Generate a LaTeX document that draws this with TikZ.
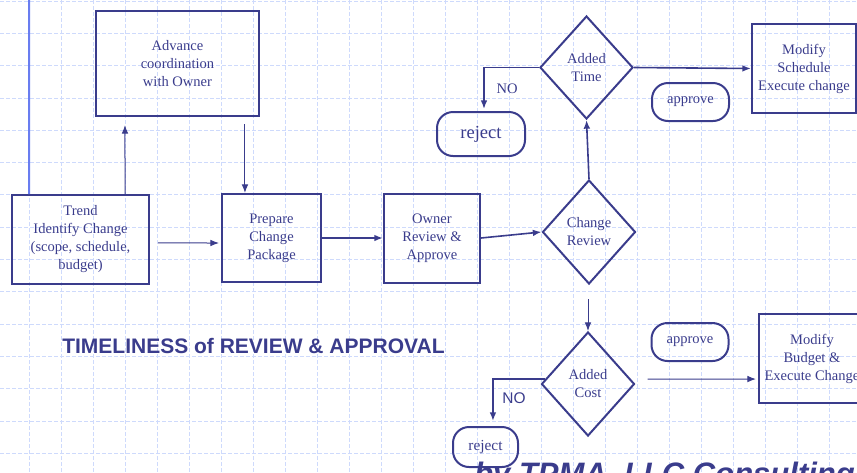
\documentclass[tikz,border=0pt]{standalone}
\usepackage{fontspec}
\setmainfont{Liberation Serif}
\setsansfont{Liberation Sans}
\usetikzlibrary{shapes.geometric,arrows.meta}

\definecolor{navy}{RGB}{58,60,140}
\definecolor{gridblue}{RGB}{206,218,252}
\definecolor{rulerblue}{RGB}{105,125,240}

\begin{document}
\begin{tikzpicture}[x=0.75pt,y=-0.75pt,
		box/.style={draw=navy,line width=1.5pt,text=navy,align=center,inner sep=0pt,
			font=\fontsize{10.9}{13.5}\selectfont},
		decision/.style={box,diamond,minimum width=69.75pt,minimum height=78pt},
		pill/.style={box,rounded corners=12pt},
		flow/.style={-{Latex[length=6.5pt,width=5pt]},draw=navy,line width=0.75pt},
		label/.style={text=navy,inner sep=0pt,font=\fontsize{10.9}{13.5}\selectfont}]
		\useasboundingbox (0,0) rectangle (857,472);
		\clip (0,0) rectangle (857,472);

		% grid
		\foreach \gx in {-3,29,...,861}
			\draw[gridblue,dash pattern=on 3pt off 1.5pt,line width=0.5pt] (\gx,0) -- (\gx,472);
		\foreach \gy in {1,33.3,...,472}
			\draw[gridblue,dash pattern=on 3pt off 1.5pt,line width=0.5pt] (0,\gy) -- (857,\gy);

		% boxes
		\node[box,minimum width=122.25pt,minimum height=78.75pt] (advance) at (177.5,63.5) {Advance\\coordination\\with Owner};
		\node[box,minimum width=102.75pt,minimum height=66.75pt] (trend) at (80.5,239.5) {Trend\\Identify Change\\(scope, schedule,\\budget)};
		\node[box,minimum width=74.25pt,minimum height=66pt] (prepare) at (271.5,238) {Prepare\\Change\\Package};
		\node[box,minimum width=72pt,minimum height=66.75pt] (owner) at (432,238) {Owner\\Review \&\\Approve};
		\node[decision] (review) at (589,232) {Change\\Review};
		\node[decision,minimum height=77.25pt] (addtime) at (586.5,67.5) {Added\\Time};
		\node[decision] (addcost) at (588,384) {Added\\Cost};
		\node[box,minimum width=78pt,minimum height=66.75pt] (schedule) at (804,68.5) {Modify\\Schedule\\Execute change};
		\node[box,minimum width=79.5pt,minimum height=66.75pt] (budget) at (812,358.5) {Modify\\Budget \&\\Execute Change};

		\node[pill,minimum width=66pt,minimum height=33pt,font=\fontsize{13.9}{16}\selectfont] (rejtime) at (481,134) {reject};
		\node[pill,minimum width=48.75pt,minimum height=30pt,font=\fontsize{11.5}{14}\selectfont] (rejcost) at (485.5,447) {reject};
		\node[pill,minimum width=57.75pt,minimum height=28.5pt] (apptime) at (690.5,102) {approve};
		\node[pill,minimum width=57.75pt,minimum height=28.5pt] (appcost) at (690,342) {approve};

		% texts
		\node[label] (notime) at (507,89) {NO};
		\node[label,font=\sffamily\fontsize{11.6}{14}\selectfont] (nocost) at (514,398) {NO};
		\node[text=navy,inner sep=0pt,anchor=base west,font=\sffamily\bfseries\fontsize{15.75}{18}\selectfont] (title) at (62,353) {TIMELINESS of REVIEW \& APPROVAL};
		\node[text=navy,inner sep=0pt,anchor=base west,font=\sffamily\bfseries\itshape\fontsize{23.25}{26}\selectfont] (firm) at (474,484) {by TPMA, LLC Consulting};

		% connectors
		\coordinate (topedge) at (29,0);
		\draw[rulerblue,line width=1.5pt] (topedge) -- ([xshift=-38.6pt]trend.north);
		\draw[flow] ([xshift=33.4pt]trend.north) -- ([xshift=-39.4pt,yshift=-6pt]advance.south);
		\draw[flow] ([xshift=50.6pt,yshift=-5.25pt]advance.south) -- ([xshift=-19.9pt]prepare.north);
		\draw[flow] ([xshift=6pt,yshift=-2.6pt]trend.east) -- ([xshift=-1.5pt,yshift=-3.75pt]prepare.west);
		\draw[flow,line width=1.5pt] (prepare.east) -- (owner.west);
		\draw[flow,line width=1.2pt] (owner.east) -- (review.west);
		\draw[flow,line width=1.2pt] (review.north) -- (addtime.south);
		\draw[flow,line width=1.2pt] (addtime.west) -| ([xshift=2.25pt,yshift=1.5pt]rejtime.north);
		\draw[flow,line width=1.2pt] (addtime.east) -- (schedule.west);
		\draw[flow] ([yshift=-10.5pt]review.south -| addcost.north) -- (addcost.north);
		\draw[flow,line width=1.2pt] ([xshift=3pt,yshift=3.75pt]addcost.west) -| ([xshift=5.6pt,yshift=3.75pt]rejcost.north);
		\draw[flow] ([xshift=9pt,yshift=3.75pt]addcost.east) -- ([xshift=-1.5pt,yshift=-15.4pt]budget.west);
	\end{tikzpicture}
\end{document}
